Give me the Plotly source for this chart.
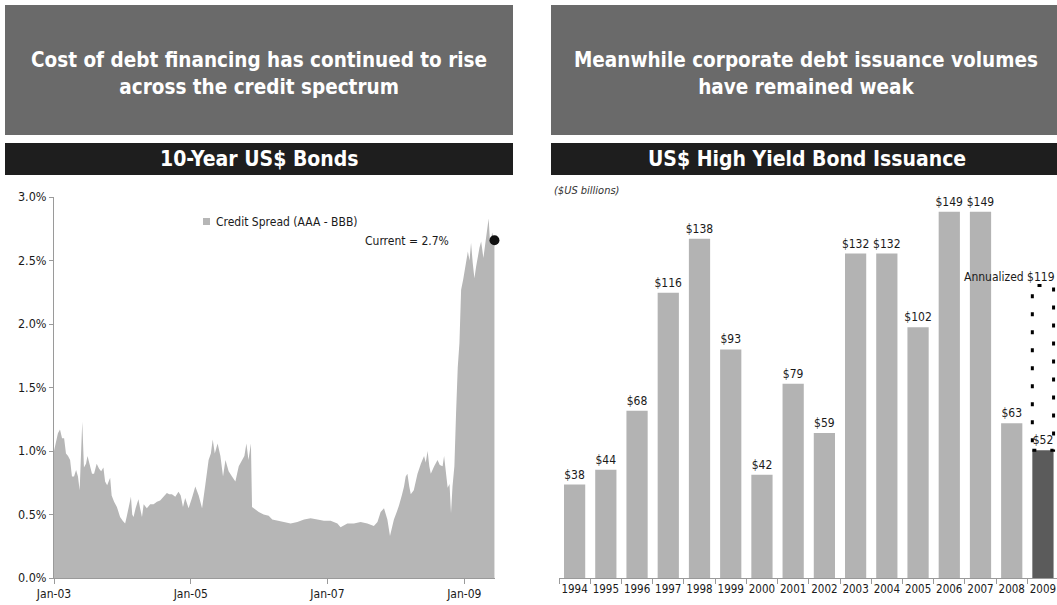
import plotly.graph_objects as go

# ---- 10-year US$ bonds: credit spread AAA - BBB (percent) ----
spread_dates = [
    "2003-01-01", "2003-01-12", "2003-01-22", "2003-02-02", "2003-02-13", "2003-02-24",
    "2003-03-06", "2003-03-17", "2003-03-28", "2003-04-07", "2003-04-18", "2003-04-29",
    "2003-05-09", "2003-05-18", "2003-06-01", "2003-06-10", "2003-06-21", "2003-06-29",
    "2003-07-13", "2003-07-23", "2003-08-03", "2003-08-17", "2003-08-30", "2003-09-10",
    "2003-09-22", "2003-10-01", "2003-10-12", "2003-10-28", "2003-11-05", "2003-11-18",
    "2003-12-03", "2003-12-12", "2003-12-20", "2004-01-03", "2004-01-16", "2004-01-24",
    "2004-02-03", "2004-02-16", "2004-02-23", "2004-03-01", "2004-03-12", "2004-03-27",
    "2004-04-05", "2004-04-15", "2004-04-24", "2004-05-11", "2004-05-29", "2004-06-16",
    "2004-07-04", "2004-07-21", "2004-08-08", "2004-08-26", "2004-09-08", "2004-09-22",
    "2004-10-10", "2004-10-27", "2004-11-08", "2004-11-20", "2004-12-02", "2004-12-20",
    "2005-01-07", "2005-01-25", "2005-02-12", "2005-03-02", "2005-03-20", "2005-04-06",
    "2005-04-18", "2005-04-28", "2005-05-09", "2005-05-24", "2005-06-08", "2005-06-22",
    "2005-07-05", "2005-07-22", "2005-08-09", "2005-08-27", "2005-09-14", "2005-10-02",
    "2005-10-14", "2005-10-25", "2005-11-05", "2005-11-18", "2005-11-24", "2005-12-12",
    "2005-12-30", "2006-01-25", "2006-02-21", "2006-03-12", "2006-04-07", "2006-05-13",
    "2006-06-18", "2006-07-24", "2006-08-29", "2006-10-03", "2006-11-08", "2006-12-13",
    "2007-01-18", "2007-02-23", "2007-03-12", "2007-04-17", "2007-05-22", "2007-06-27",
    "2007-08-02", "2007-09-06", "2007-09-25", "2007-10-12", "2007-10-30", "2007-11-17",
    "2007-12-01", "2007-12-13", "2007-12-22", "2008-01-06", "2008-01-18", "2008-02-02",
    "2008-02-14", "2008-02-23", "2008-03-03", "2008-03-13", "2008-03-21", "2008-04-06",
    "2008-04-26", "2008-05-14", "2008-05-31", "2008-06-09", "2008-06-19", "2008-06-28",
    "2008-07-06", "2008-07-24", "2008-08-11", "2008-08-23", "2008-09-07", "2008-09-15",
    "2008-09-24", "2008-10-04", "2008-10-14", "2008-10-22", "2008-10-30", "2008-11-09",
    "2008-11-18", "2008-11-27", "2008-12-06", "2008-12-15", "2008-12-26", "2009-01-05",
    "2009-01-20", "2009-01-29", "2009-02-06", "2009-02-15", "2009-02-24", "2009-03-05",
    "2009-03-13", "2009-03-23", "2009-04-01", "2009-04-13", "2009-04-22", "2009-04-30",
    "2009-05-11", "2009-05-19", "2009-05-30", "2009-06-11",
]
spread_values = [
    1.00, 1.08, 1.14, 1.17, 1.10, 1.10,
    0.98, 0.96, 0.93, 0.80, 0.80, 0.85,
    0.80, 0.69, 1.23, 0.87, 0.90, 0.96,
    0.88, 0.82, 0.82, 0.90, 0.86, 0.84,
    0.87, 0.76, 0.73, 0.79, 0.65, 0.60,
    0.56, 0.52, 0.48, 0.45, 0.43, 0.48,
    0.55, 0.64, 0.50, 0.48, 0.55, 0.62,
    0.55, 0.48, 0.58, 0.55, 0.58, 0.58,
    0.60, 0.61, 0.64, 0.67, 0.66, 0.66,
    0.64, 0.68, 0.65, 0.56, 0.63, 0.55,
    0.63, 0.72, 0.65, 0.55, 0.74, 0.93,
    0.98, 1.09, 0.98, 1.06, 0.96, 0.80,
    0.93, 0.84, 0.80, 0.76, 0.88, 0.93,
    0.96, 1.06, 0.93, 1.06, 0.56, 0.54,
    0.52, 0.50, 0.49, 0.46, 0.45, 0.44,
    0.43, 0.44, 0.46, 0.47, 0.46, 0.45,
    0.45, 0.43, 0.40, 0.43, 0.43, 0.44,
    0.43, 0.41, 0.44, 0.52, 0.55, 0.46,
    0.33, 0.40, 0.46, 0.52, 0.57, 0.65,
    0.72, 0.80, 0.82, 0.72, 0.66, 0.69,
    0.82, 0.90, 0.96, 0.91, 1.00, 0.88,
    0.82, 0.88, 0.93, 0.89, 0.88, 0.96,
    0.85, 0.71, 0.74, 0.51, 0.72, 0.88,
    1.30, 1.66, 1.85, 2.27, 2.35, 2.45,
    2.57, 2.50, 2.64, 2.48, 2.36, 2.45,
    2.53, 2.60, 2.65, 2.52, 2.62, 2.70,
    2.83, 2.63, 2.72, 2.66,
]
spread_ticks = ["2003-01-01", "2005-01-01", "2007-01-01", "2009-01-01"]
spread_tick_labels = ["Jan-03", "Jan-05", "Jan-07", "Jan-09"]

# ---- US$ high yield bond issuance ($US billions) ----
years = [str(y) for y in range(1994, 2010)]
issuance = [38, 44, 68, 116, 138, 93, 42, 79, 59, 132, 132, 102, 149, 149, 63, 52]
annualized_2009 = 119

W, H = 1057, 605
FONT = "DejaVu Sans Condensed, DejaVu Sans, Verdana, sans-serif"
AREA = "#b6b6b6"
BAR = "#b3b3b3"
BAR_DARK = "#5b5b5b"
BOX = "#6a6a6a"
HEADER = "#1e1e1e"
AXIS = "#9a9a9a"
TEXT = "#1a1a1a"


def fx(x):
    return x / W


def fy(y):
    return 1 - y / H


fig = go.Figure()

spread = [v / 100 for v in spread_values]
fig.add_trace(go.Scatter(
    x=spread_dates, y=spread, mode="lines", fill="tozeroy",
    line=dict(width=0, color=AREA), fillcolor=AREA,
    xaxis="x", yaxis="y", showlegend=False, hoverinfo="skip",
))
current = spread[-1]
fig.add_trace(go.Scatter(
    x=[spread_dates[-1]], y=[current], mode="markers",
    marker=dict(size=10, color="#111111"),
    xaxis="x", yaxis="y", showlegend=False, hoverinfo="skip", cliponaxis=False,
))

fig.add_trace(go.Bar(
    x=years, y=issuance, width=0.68,
    marker=dict(color=[BAR] * (len(years) - 1) + [BAR_DARK], line=dict(width=0)),
    text=[f"${v}" for v in issuance], textposition="outside", constraintext="none",
    textfont=dict(family=FONT, size=12, color=TEXT), cliponaxis=False,
    xaxis="x2", yaxis="y2", showlegend=False, hoverinfo="skip",
))

y_dom = [fy(578), fy(197)]
fig.update_layout(
    width=W, height=H, autosize=False,
    margin=dict(l=0, r=0, t=0, b=0, autoexpand=False),
    paper_bgcolor="white", plot_bgcolor="white",
    font=dict(family=FONT, size=12, color=TEXT),
    xaxis=dict(
        domain=[fx(54), fx(495)], type="date",
        range=["2003-01-01", "2009-06-14"],
        tickvals=spread_ticks, ticktext=spread_tick_labels, tickangle=0,
        showgrid=False, zeroline=False, showline=True, linecolor=AXIS, linewidth=1,
        ticks="outside", ticklen=5, tickcolor=AXIS, anchor="y", automargin=False,
        tickfont=dict(size=12, color=TEXT),
    ),
    yaxis=dict(
        domain=y_dom, range=[0, 0.03], dtick=0.005, tickformat=".1%",
        showgrid=False, zeroline=False, showline=True, linecolor=AXIS, linewidth=1,
        ticks="outside", ticklen=4, tickcolor=AXIS, anchor="x", automargin=False,
        tickfont=dict(size=12.5, color=TEXT),
    ),
    xaxis2=dict(
        domain=[fx(559), 1.0], type="category", range=[-0.5, 15.45], tickangle=0,
        showgrid=False, zeroline=False, showline=True, linecolor=AXIS, linewidth=1,
        ticks="outside", tickson="boundaries", ticklen=5, tickcolor=AXIS,
        anchor="y2", automargin=False, tickfont=dict(size=11.5, color=TEXT),
    ),
    yaxis2=dict(domain=y_dom, range=[0, 155], visible=False, anchor="x2", automargin=False),
)

shapes = [
    # banner boxes and section headers
    dict(type="rect", xref="paper", yref="paper", x0=fx(5), x1=fx(513), y0=fy(135), y1=fy(5),
         fillcolor=BOX, line=dict(width=0), layer="below"),
    dict(type="rect", xref="paper", yref="paper", x0=fx(551), x1=1.0, y0=fy(135), y1=fy(5),
         fillcolor=BOX, line=dict(width=0), layer="below"),
    dict(type="rect", xref="paper", yref="paper", x0=fx(5), x1=fx(513), y0=fy(175), y1=fy(143),
         fillcolor=HEADER, line=dict(width=0), layer="below"),
    dict(type="rect", xref="paper", yref="paper", x0=fx(551), x1=1.0, y0=fy(175), y1=fy(143),
         fillcolor=HEADER, line=dict(width=0), layer="below"),
    # legend swatch
    dict(type="rect", xref="paper", yref="paper", x0=fx(203), x1=fx(210), y0=fy(225), y1=fy(218),
         fillcolor=AREA, line=dict(width=0)),
    # annualized 2009 outline
    dict(type="rect", xref="x2", yref="y2", x0=15 - 0.34, x1=15 + 0.34,
         y0=issuance[-1], y1=annualized_2009,
         line=dict(color="#000000", width=3, dash="4px,14px"), fillcolor="rgba(0,0,0,0)"),
]
fig.update_layout(shapes=shapes)

annotations = [
    dict(text="<b>Cost of debt financing has continued to rise<br>across the credit spectrum</b>",
         x=fx(259), y=fy(73), font=dict(size=20.5, color="white")),
    dict(text="<b>Meanwhile corporate debt issuance volumes<br>have remained weak</b>",
         x=fx(806), y=fy(73), font=dict(size=20.5, color="white")),
    dict(text="<b>10-Year US$ Bonds</b>", x=fx(259), y=fy(159), font=dict(size=21, color="white")),
    dict(text="<b>US$ High Yield Bond Issuance</b>", x=fx(807), y=fy(159),
         font=dict(size=21, color="white")),
    dict(text="<i>($US billions)</i>", x=fx(552), y=fy(190), xanchor="left",
         font=dict(size=11, color="#333333")),
    dict(text="Credit Spread (AAA - BBB)", x=fx(214), y=fy(222), xanchor="left",
         font=dict(size=12, color=TEXT)),
    dict(text=f"Current = {current:.1%}", x=fx(451), y=fy(241), xanchor="right",
         font=dict(size=12, color=TEXT)),
]
for a in annotations:
    a.setdefault("xref", "paper")
    a.setdefault("yref", "paper")
    a.setdefault("showarrow", False)
    a.setdefault("yanchor", "middle")
    a.setdefault("xanchor", "center")
annotations.append(dict(
    text=f"Annualized ${annualized_2009}", xref="x2", yref="y2",
    x=15 + 0.45, y=annualized_2009, xanchor="right", yanchor="bottom",
    showarrow=False, font=dict(size=12, color=TEXT), yshift=-1,
))
fig.update_layout(annotations=annotations)

fig.write_html("out.html")
